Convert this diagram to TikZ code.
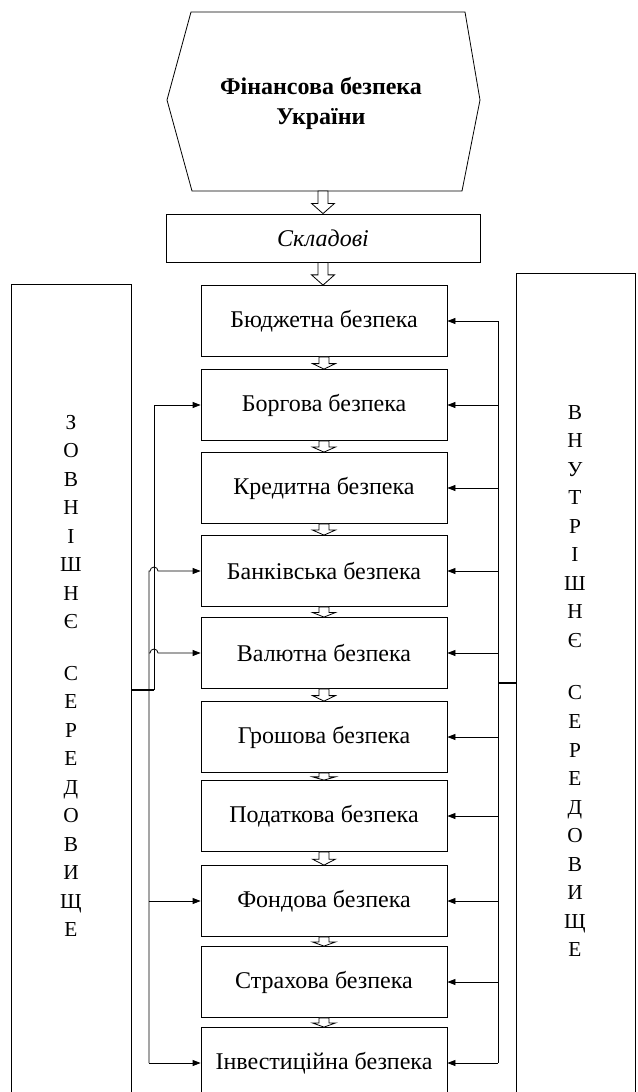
\documentclass[tikz,border=0pt]{standalone}
\usepackage{fontspec}
\setmainfont{Liberation Serif}
\usetikzlibrary{arrows.meta,calc}

% hollow block arrow between two anchors (top to bottom)
\newcommand{\hollowarrow}[2]{%
  \draw[hollow] let \p1=(#1), \p2=(#2), \n1={0.45*(\y1-\y2)} in
    (\x1-3.75pt,\y1) -- (\x1-3.75pt,\y2+\n1*1pt) -- (\x1-8.6pt,\y2+\n1*1pt) -- (\x1,\y2)
    -- (\x1+8.6pt,\y2+\n1*1pt) -- (\x1+3.75pt,\y2+\n1*1pt) -- (\x1+3.75pt,\y1) -- cycle;}

\begin{document}
\begin{tikzpicture}[
  x=0.75pt, y=-0.75pt,
  box/.style={draw, line width=0.6pt, minimum width=184.5pt, minimum height=53.25pt,
    inner sep=0pt, font=\fontsize{18}{21}\selectfont},
  conn/.style={line width=0.6pt, -{Triangle[length=6pt,width=4.5pt]}},
  link/.style={line width=0.6pt},
  hollow/.style={draw, fill=white, line width=0.6pt},
  panel/.style={draw, line width=0.6pt},
  vert/.style={align=center, inner sep=0pt, font=\fontsize{16}{21.4}\selectfont}
]
\useasboundingbox (0,0) rectangle (637,1092);
\clip (0,0) rectangle (637,1092);

% title hexagon
\draw[line width=0.6pt] (191,12) -- (465,12) -- (480,100) -- (462,191)
  -- (192,191) -- (167,100) -- cycle;
\node[align=center, font=\bfseries\fontsize{18}{22.5}\selectfont] (fin) at (321,103)
  {Фінансова безпека\\України};
\coordinate (hexS) at (323,191);
\node[draw, line width=0.6pt, minimum width=235.5pt, minimum height=36pt,
  font=\itshape\fontsize{18}{21}\selectfont] (skl) at (323,238) {Складові};

% components
\foreach \n/\y/\t in {b1/321/Бюджетна безпека, b2/405/Боргова безпека,
    b3/488/Кредитна безпека, b4/571/Банківська безпека, b5/653/Валютна безпека,
    b6/737/Грошова безпека, b7/816/Податкова безпека, b8/901/Фондова безпека,
    b9/982/Страхова безпека, b10/1063/Інвестиційна безпека}
  \node[box] (\n) at (324,\y) {\t};

\hollowarrow{hexS}{skl.north}
\hollowarrow{skl.south}{b1.north}
\foreach \a/\b in {b1/b2,b2/b3,b3/b4,b4/b5,b5/b6,b6/b7,b7/b8,b8/b9,b9/b10}
  {\hollowarrow{\a.south}{\b.north}}

% environments
\draw[panel] (11,1100) -- (11,284) -- (131,284) -- (131,1100);
\draw[panel] (516,1100) -- (516,273) -- (635,273) -- (635,1100);
\node[vert] (zovn) at (71,676)
  {З\\О\\В\\Н\\І\\Ш\\Н\\Є\\[17pt]С\\Е\\Р\\Е\\Д\\О\\В\\И\\Щ\\Е};
\node[vert] (vnut) at (575,681)
  {В\\Н\\У\\Т\\Р\\І\\Ш\\Н\\Є\\[18pt]С\\Е\\Р\\Е\\Д\\О\\В\\И\\Щ\\Е};

% external links
\coordinate (zovnE) at (131,690);
\coordinate (zk) at (154,690);
\coordinate (zl) at (149,690);
\draw[link, line width=1.3pt] (zovnE) -- (zk);
\draw[conn] (zk) |- (b2.west);
\draw[conn] (zl |- b10.west) -- (zl |- b4.west) -- ++(1,0)
  arc[start angle=180, end angle=0, radius=3pt] -- (b4.west);
\draw[conn] (zl |- b5.west) -- ++(1,0)
  arc[start angle=180, end angle=0, radius=3pt] -- (b5.west);
\draw[conn] (zl |- b8.west) -- (b8.west);
\draw[conn] (zl |- b10.west) -- (b10.west);

% internal links
\coordinate (vnutW) at (516,683);
\coordinate (vr) at (498,683);
\draw[link, line width=1.3pt] (vnutW) -- (vr);
\draw[link] (vr |- b1.east) -- (vr |- b10.east);
\foreach \i in {1,...,10}
  \draw[conn] (vr |- b\i.east) -- (b\i.east);
\end{tikzpicture}
\end{document}
